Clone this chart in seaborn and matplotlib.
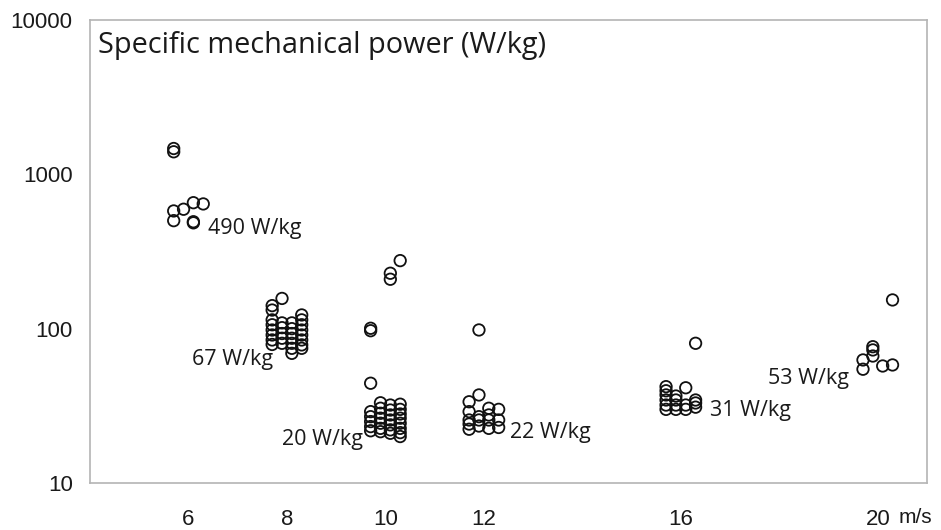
import matplotlib
matplotlib.use("Agg")
import matplotlib.pyplot as plt
import numpy as np
import pandas as pd
import seaborn as sns
from matplotlib.ticker import FixedLocator, FixedFormatter, NullLocator

# Running speeds (m/s) and the specific mechanical power (W/kg) of each
# trial, grouped in four side-by-side columns per speed.
speeds = [6, 8, 10, 12, 16, 20]

power_6 = [[1470, 1400, 579, 501], [594], [655, 493, 485], [643]]
power_8 = [[141, 132, 114, 106, 98, 91, 84.5, 79],
           [157, 109, 101.5, 93, 86.7, 80.4],
           [109, 100, 93, 86.7, 80.4, 74.6, 69.2],
           [122.7, 114, 106, 98, 91, 84.5, 78.5, 74.6]]
power_10 = [[100.6, 97, 44.3, 29.0, 26.9, 25.0, 23.2, 21.8],
            [33.1, 30.5, 28.3, 26.3, 24.4, 22.6, 21.5],
            [228.6, 209, 32.0, 29.7, 27.6, 25.6, 23.8, 22.1, 21.0],
            [276, 32.4, 30.0, 28.0, 26.3, 24.4, 22.6, 21.2, 20.0]]
power_12 = [[33.6, 29.0, 25.6, 24.1, 22.3],
            [98.1, 37.2, 26.9, 25.6, 23.4],
            [30.5, 27.6, 25.6, 22.6],
            [30.0, 25.6, 22.9]]
power_16 = [[42.1, 39.6, 37.2, 34.5, 32.0, 30.0],
            [36.6, 34.5, 32.0, 30.0],
            [41.4, 32.0, 30.0],
            [80.4, 34.5, 33.0, 31.0]]
power_20 = [[62.7, 54.6],
            [76.4, 72.8, 66.5],
            [57.3],
            [153.5, 58.2]]

groups = [power_6, power_8, power_10, power_12, power_16, power_20]

# Group annotations
group_labels = ["490 W/kg", "67 W/kg", "20 W/kg", "22 W/kg", "31 W/kg", "53 W/kg"]

x_ticks = [4, 6, 8, 10, 12, 14, 16, 18, 20]
x_tick_labels = ["", "6", "8", "10", "12", "", "16", "", "20"]
y_ticks = [10, 100, 1000, 10000]
y_tick_labels = ["10", "100", "1000", "10000"]

title = "Specific mechanical power (W/kg)"
x_unit = "m/s"

# Tidy table: each column within a speed group is spread a little sideways
rows = []
for speed, cols in zip(speeds, groups):
    n = len(cols)
    for i, col in enumerate(cols):
        offset = (i - (n - 1) / 2) * 0.2
        for v in col:
            rows.append({"speed": speed, "x": speed + offset, "power": v})
df = pd.DataFrame(rows)

sns.set_style("white")
text_fonts = ["Open Sans", "DejaVu Sans"]
tick_fonts = ["Liberation Sans Narrow", "Liberation Sans", "DejaVu Sans"]
plt.rcParams["font.family"] = text_fonts

fig = plt.figure(figsize=(9.41, 5.30), dpi=100)
ax = fig.add_axes([90 / 941, 1 - 483 / 530, (927 - 90) / 941, (483 - 20) / 530])

sns.scatterplot(data=df, x="x", y="power", ax=ax, marker="o", s=68,
                facecolor="none", edgecolor="#111111", linewidth=1.3,
                legend=False, zorder=3)

ax.set_yscale("log")
ax.set_ylim(10, 10000)
ax.set_xlim(4, 21)

ax.yaxis.set_major_locator(FixedLocator(y_ticks))
ax.yaxis.set_major_formatter(FixedFormatter(y_tick_labels))
ax.yaxis.set_minor_locator(NullLocator())
ax.xaxis.set_major_locator(FixedLocator(x_ticks))
ax.xaxis.set_major_formatter(FixedFormatter(x_tick_labels))

spine_color = "#b4b4b4"
for sp in ax.spines.values():
    sp.set_color(spine_color)
    sp.set_linewidth(1.2)
    sp.set_visible(True)

ax.tick_params(axis="both", which="major", direction="out", length=6.5,
               width=1.0, color=spine_color, labelcolor="#1a1a1a", labelsize=16)
ax.tick_params(axis="y", pad=6)
ax.tick_params(axis="x", pad=12)
for lab in ax.get_xticklabels() + ax.get_yticklabels():
    lab.set_family(tick_fonts)

ax.set_xlabel("")
ax.set_ylabel("")

ax.annotate(x_unit, xy=(20, 0), xycoords=("data", "axes fraction"),
            xytext=(15, -25), textcoords="offset points", ha="left", va="center",
            fontsize=15, family=tick_fonts, color="#1a1a1a")

ax.text(0.009, 0.946, title, transform=ax.transAxes, ha="left", va="center",
        fontsize=20.8, color="#1a1a1a")

# Annotation anchors (speed, power) and alignment for each group
label_pos = [(6.40, 449, "left"), (7.72, 62.7, "right"), (9.55, 19.0, "right"),
             (12.54, 21.1, "left"), (16.60, 29.7, "left"), (19.41, 47.9, "right")]
for text, (lx, ly, ha) in zip(group_labels, label_pos):
    ax.text(lx, ly, text, ha=ha, va="center", fontsize=15.5, color="#1a1a1a")

fig.savefig("out.png", dpi=100, facecolor="white")
